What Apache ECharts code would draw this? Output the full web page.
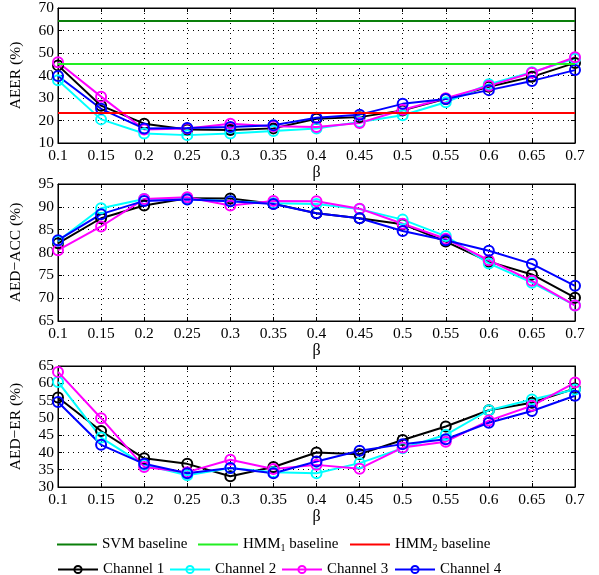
<!DOCTYPE html>
<html><head><meta charset="utf-8">
<script src="https://cdn.jsdelivr.net/npm/echarts@6/dist/echarts.min.js"></script>
<style>html,body{margin:0;padding:0;background:#fff}#c{width:599px;height:575px}</style>
</head><body><div id="c"></div>
<script>
const betas = ['0.1','0.15','0.2','0.25','0.3','0.35','0.4','0.45','0.5','0.55','0.6','0.65','0.7'];
const channelNames = ['Channel 1','Channel 2','Channel 3','Channel 4'];
const baselineNames = ['SVM baseline','HMM1 baseline','HMM2 baseline'];
const aeerBaselines = [64.5, 45.3, 23.6];
// AEER (%)
const aeerCh1 = [44.5,26.6,18.6,16.0,15.8,16.5,20.8,21.5,24.5,29.6,35.0,39.4,45.6];
const aeerCh2 = [37.9,20.5,14.2,13.5,14.2,15.3,16.4,19.3,22.3,28.1,36.1,41.5,47.5];
const aeerCh3 = [45.9,30.6,16.0,16.4,18.6,17.4,17.1,18.9,24.8,29.9,35.4,41.2,48.1];
const aeerCh4 = [39.8,25.2,16.4,16.7,17.1,17.9,21.2,22.6,27.4,29.6,33.5,37.6,42.4];
// AED-ACC (%)
const accCh1 = [82.0,87.5,90.3,91.9,91.8,90.7,88.6,87.5,86.2,82.4,78.0,75.2,70.1];
const accCh2 = [82.5,89.7,91.7,91.7,91.2,90.8,90.6,89.5,87.2,83.6,77.6,73.4,68.4];
const accCh3 = [80.5,85.7,91.7,92.1,90.3,91.3,91.2,89.6,86.3,83.0,78.3,73.8,68.4];
const accCh4 = [82.7,88.4,91.3,91.6,91.2,90.6,88.6,87.5,84.7,82.7,80.4,77.5,72.7];
// AED-ER (%)
const erCh1 = [55.9,46.2,38.3,36.7,33.1,35.8,40.0,39.5,43.6,47.5,52.2,54.4,58.5];
const erCh2 = [60.4,44.3,36.4,33.4,35.5,34.3,34.0,36.9,41.2,45.1,52.2,55.3,58.2];
const erCh3 = [63.3,49.9,35.8,34.3,37.9,35.2,36.4,35.3,41.4,43.1,49.2,53.5,60.2];
const erCh4 = [54.6,42.2,36.7,34.0,35.5,34.0,37.4,40.5,42.4,43.8,48.6,52.0,56.4];
const yTitles = ['AEER (%)','AED\u2212ACC (%)','AED\u2212ER (%)'];
const yRanges = [[10,70,10],[65,95,5],[30,65,5]];

const chColors = ['#000000','#00ffff','#ff00ff','#0000ff'];
const blColors = ['#0a7f0a','#22ee22','#ff0000'];
const FONT = 'Liberation Serif';
const panels = [[aeerCh1,aeerCh2,aeerCh3,aeerCh4],[accCh1,accCh2,accCh3,accCh4],[erCh1,erCh2,erCh3,erCh4]];
const gridBoxes = [{top:7,height:136},{top:184,height:137},{top:366,height:121}];

const grid=[], xAxis=[], yAxis=[], series=[];
gridBoxes.forEach((g,i)=>{
  grid.push({left:57,right:24,top:g.top,height:g.height,show:true,borderColor:'#000',borderWidth:1,backgroundColor:'transparent'});
  xAxis.push({type:'category',gridIndex:i,data:betas,boundaryGap:false,position:'bottom',
    name:'\u03b2',nameLocation:'middle',nameGap:22,nameTextStyle:{fontFamily:FONT,fontSize:16,color:'#000'},
    axisLine:{lineStyle:{color:'#000'}},axisTick:{inside:true,length:4,lineStyle:{color:'#000'}},
    axisLabel:{fontFamily:FONT,fontSize:15.5,color:'#000',margin:5},
    splitLine:{show:true,lineStyle:{type:[1,4],color:'#000',width:1}}});
  xAxis.push({type:'category',gridIndex:i,data:betas,boundaryGap:false,position:'top',
    axisLine:{lineStyle:{color:'#000'}},axisTick:{inside:true,length:4,lineStyle:{color:'#000'}},
    axisLabel:{show:false},splitLine:{show:false}});
  const r=yRanges[i];
  yAxis.push({type:'value',gridIndex:i,min:r[0],max:r[1],interval:r[2],position:'left',
    name:yTitles[i],nameLocation:'middle',nameGap:34,nameTextStyle:{fontFamily:FONT,fontSize:15.5,color:'#000'},
    axisLine:{show:true,lineStyle:{color:'#000'}},axisTick:{show:true,inside:true,length:4,lineStyle:{color:'#000'}},
    axisLabel:{fontFamily:FONT,fontSize:15.5,color:'#000',margin:4},
    splitLine:{show:true,lineStyle:{type:[1,4],color:'#000',width:1}}});
  yAxis.push({type:'value',gridIndex:i,min:r[0],max:r[1],interval:r[2],position:'right',
    axisLine:{show:true,lineStyle:{color:'#000'}},axisTick:{show:true,inside:true,length:4,lineStyle:{color:'#000'}},
    axisLabel:{show:false},splitLine:{show:false}});
});

baselineNames.forEach((n,k)=>{
  series.push({name:n,type:'line',xAxisIndex:0,yAxisIndex:0,data:[],symbol:'none',
    lineStyle:{color:blColors[k],width:2},itemStyle:{color:blColors[k]},z:1,
    markLine:{silent:true,symbol:'none',label:{show:false},animation:false,
      lineStyle:{color:blColors[k],width:2,type:'solid'},data:[{yAxis:aeerBaselines[k]}]}});
});
panels.forEach((chs,i)=>{
  chs.forEach((d,k)=>{
    series.push({name:channelNames[k],type:'line',xAxisIndex:2*i,yAxisIndex:2*i,data:d,
      symbol:'circle',symbolSize:10,showAllSymbol:true,
      lineStyle:{color:chColors[k],width:2},itemStyle:{color:'rgba(255,255,255,0)',borderWidth:2,borderColor:chColors[k]},z:3});
  });
});

const legendPos = {'SVM baseline':[52,532],'HMM1 baseline':[193,532],'HMM2 baseline':[345,532],
  'Channel 1':[52,557],'Channel 2':[164,557],'Channel 3':[276,557],'Channel 4':[389,557]};
const legend = Object.keys(legendPos).map(n=>{
  const isBase = baselineNames.includes(n);
  return {data:[isBase?{name:n,icon:'rect'}:n],left:legendPos[n][0],top:legendPos[n][1],
  itemWidth:40,itemHeight:isBase?2:9,itemGap:4,selectedMode:false,
  formatter:name=>name.replace(/HMM(\d)/,'HMM{sub|$1}'),
  textStyle:{fontFamily:FONT,fontSize:15,color:'#000',rich:{sub:{fontFamily:FONT,fontSize:10,padding:[8,0,0,0],color:'#000'}}}};
});

const chart = echarts.init(document.getElementById('c'),null,{renderer:'canvas'});
chart.setOption({animation:false,backgroundColor:'#fff',grid,xAxis,yAxis,series,legend});
</script></body></html>
